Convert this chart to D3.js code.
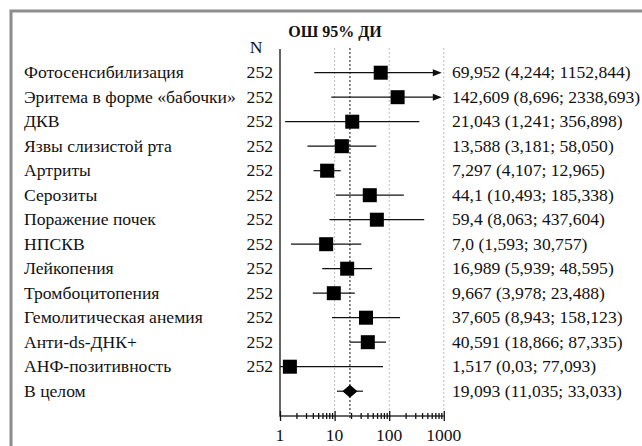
<!DOCTYPE html>
<html>
<head>
<meta charset="utf-8">
<script src="https://cdn.jsdelivr.net/npm/d3@7"></script>
<style>
  body { margin: 0; background: #fff; }
</style>
</head>
<body>
<div class="holderForest"></div>
<script>
var labels = ['Фотосенсибилизация', 'Эритема в форме «бабочки»', 'ДКВ', 'Язвы слизистой рта',
  'Артриты', 'Серозиты', 'Поражение почек', 'НПСКВ', 'Лейкопения', 'Тромбоцитопения',
  'Гемолитическая анемия', 'Анти-ds-ДНК+', 'АНФ-позитивность']
var nValues = [252, 252, 252, 252, 252, 252, 252, 252, 252, 252, 252, 252, 252]
var orValues = [69.952, 142.609, 21.043, 13.588, 7.297, 44.1, 59.4, 7.0, 16.989, 9.667, 37.605, 40.591, 1.517]
var loValues = [4.244, 8.696, 1.241, 3.181, 4.107, 10.493, 8.063, 1.593, 5.939, 3.978, 8.943, 18.866, 0.03]
var hiValues = [1152.844, 2338.693, 356.898, 58.050, 12.965, 185.338, 437.604, 30.757, 48.595, 23.488, 158.123, 87.335, 77.093]
var ciLabels = ['69,952 (4,244; 1152,844)', '142,609 (8,696; 2338,693)', '21,043 (1,241; 356,898)',
  '13,588 (3,181; 58,050)', '7,297 (4,107; 12,965)', '44,1 (10,493; 185,338)', '59,4 (8,063; 437,604)',
  '7,0 (1,593; 30,757)', '16,989 (5,939; 48,595)', '9,667 (3,978; 23,488)', '37,605 (8,943; 158,123)',
  '40,591 (18,866; 87,335)', '1,517 (0,03; 77,093)']
var totalLabel = 'В целом'
var totalOr = 19.093, totalLo = 11.035, totalHi = 33.033
var totalCi = '19,093 (11,035; 33,033)'
var majorTicks = [1, 10, 100, 1000]
var minorTicks = [2, 3, 4, 5, 6, 7, 8, 9, 20, 30, 40, 50, 60, 70, 80, 90, 200, 300, 400, 500, 600, 700, 800, 900]

var width = 642, height = 446
var axisY = 416, plotTop = 48
var font = "'Liberation Serif', 'Times New Roman', Times, serif"

var svg = d3.select('.holderForest')
  .append('svg')
  .attr('width', width)
  .attr('height', height)
  .attr('font-family', font)
  .attr('font-size', 17.6)

// frame (top and left only, runs off the picture)
svg.append('path')
  .attr('d', 'M11,' + height + 'V11H' + width)
  .attr('fill', 'none')
  .attr('stroke', '#8c8c8c')
  .attr('stroke-width', 3)

var x = d3.scaleLog().domain([1, 1000]).range([280, 443.8])
var y = d3.scalePoint()
  .domain(labels.concat([totalLabel]))
  .range([72.7, 72.7 + 13 * 24.5])

var clampX = function(v) { return x(Math.max(1, Math.min(1000, v))) }

// gray dotted grid at 10, 100, 1000
svg.selectAll('.grid')
  .data([10, 100, 1000])
  .enter()
  .append('line')
  .attr('class', 'grid')
  .attr('x1', function(d) { return x(d) })
  .attr('x2', function(d) { return x(d) })
  .attr('y1', plotTop)
  .attr('y2', axisY - 5)
  .attr('stroke', '#bdbdbd')
  .attr('stroke-dasharray', '2,2')

// overall line
svg.append('line')
  .attr('x1', x(totalOr)).attr('x2', x(totalOr))
  .attr('y1', plotTop).attr('y2', axisY + 4)
  .attr('stroke', '#111')
  .attr('stroke-dasharray', '2,2')

// left vertical line and bottom axis line
svg.append('path')
  .attr('d', 'M' + x(1) + ',' + (plotTop + 1) + 'V' + axisY + 'H' + x(1000))
  .attr('fill', 'none')
  .attr('stroke', '#333')
  .attr('stroke-width', 1.5)

var minorAxis = svg.append('g')
  .attr('transform', 'translate(0,' + (axisY - 3) + ')')
  .call(d3.axisBottom(x).tickValues(minorTicks).tickSize(6).tickFormat(''))
minorAxis.select('.domain').remove()

var majorAxis = svg.append('g')
  .attr('transform', 'translate(0,' + (axisY - 5) + ')')
  .call(d3.axisBottom(x).tickValues(majorTicks).tickSize(10).tickFormat(''))
majorAxis.select('.domain').remove()
svg.selectAll('.tick line').attr('stroke', '#111').attr('stroke-width', 1.3)

svg.selectAll('.xlab')
  .data(majorTicks)
  .enter()
  .append('text')
  .attr('class', 'xlab')
  .attr('x', function(d) { return x(d) })
  .attr('y', 441)
  .attr('text-anchor', 'middle')
  .attr('fill', '#111')
  .text(function(d) { return d })

// headers
svg.append('text')
  .attr('x', 335).attr('y', 37)
  .attr('text-anchor', 'middle')
  .attr('font-weight', 'bold')
  .attr('font-size', 16)
  .attr('fill', '#111')
  .text('ОШ 95% ДИ')

svg.append('text')
  .attr('x', 256).attr('y', 53)
  .attr('text-anchor', 'middle')
  .attr('fill', '#111')
  .text('N')

// row texts
svg.selectAll('.lab')
  .data(labels.concat([totalLabel]))
  .enter()
  .append('text')
  .attr('class', 'lab')
  .attr('x', 24)
  .attr('y', function(d) { return y(d) + 5.5 })
  .attr('fill', '#111')
  .text(function(d) { return d })

svg.selectAll('.nval')
  .data(nValues)
  .enter()
  .append('text')
  .attr('class', 'nval')
  .attr('x', 273)
  .attr('y', function(d, i) { return y(labels[i]) + 5.5 })
  .attr('text-anchor', 'end')
  .attr('fill', '#111')
  .text(function(d) { return d })

svg.selectAll('.ci')
  .data(ciLabels.concat([totalCi]))
  .enter()
  .append('text')
  .attr('class', 'ci')
  .attr('x', 452)
  .attr('y', function(d, i) { return y(labels.concat([totalLabel])[i]) + 5.5 })
  .attr('fill', '#111')
  .text(function(d) { return d })

// CI lines
svg.selectAll('.whisker')
  .data(labels)
  .enter()
  .append('line')
  .attr('class', 'whisker')
  .attr('x1', function(d, i) { return clampX(loValues[i]) })
  .attr('x2', function(d, i) { return hiValues[i] > 1000 ? x(1000) - 7 : clampX(hiValues[i]) })
  .attr('y1', function(d) { return y(d) })
  .attr('y2', function(d) { return y(d) })
  .attr('stroke', '#111')
  .attr('stroke-width', 1.2)

// arrows where upper bound is beyond 1000
svg.selectAll('.arrow')
  .data(labels.filter(function(d, i) { return hiValues[i] > 1000 }))
  .enter()
  .append('path')
  .attr('class', 'arrow')
  .attr('d', function(d) {
    var tx = x(1000) - 2, ty = y(d)
    return 'M' + tx + ',' + ty + 'L' + (tx - 9) + ',' + (ty - 3.5) + 'L' + (tx - 9) + ',' + (ty + 3.5) + 'Z'
  })
  .attr('fill', '#111')

// squares
svg.selectAll('.box')
  .data(labels)
  .enter()
  .append('rect')
  .attr('class', 'box')
  .attr('x', function(d, i) { return x(orValues[i]) - 7 })
  .attr('y', function(d) { return y(d) - 7 })
  .attr('width', 14)
  .attr('height', 14)
  .attr('fill', '#000')

// overall
svg.append('line')
  .attr('x1', x(totalLo)).attr('x2', x(totalHi))
  .attr('y1', y(totalLabel)).attr('y2', y(totalLabel))
  .attr('stroke', '#111')
  .attr('stroke-width', 1.2)

svg.append('path')
  .attr('d', function() {
    var cx = x(totalOr), cy = y(totalLabel)
    return 'M' + (cx - 7.5) + ',' + cy + 'L' + cx + ',' + (cy - 6.5) + 'L' + (cx + 7.5) + ',' + cy + 'L' + cx + ',' + (cy + 6.5) + 'Z'
  })
  .attr('fill', '#000')
</script>
</body>
</html>
